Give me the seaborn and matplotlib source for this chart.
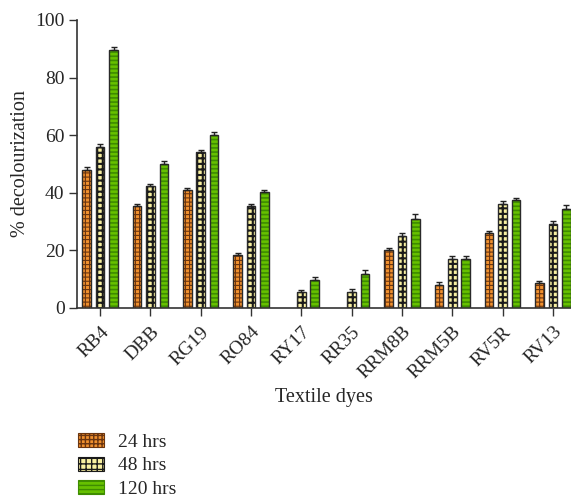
import numpy as np
import pandas as pd
import matplotlib
matplotlib.use("Agg")
import matplotlib.pyplot as plt
from matplotlib.patches import Patch, Rectangle
import seaborn as sns

dyes = ["RB4", "DBB", "RG19", "RO84", "RY17", "RR35", "RRM8B", "RRM5B", "RV5R", "RV13"]
series = ["24 hrs", "48 hrs", "120 hrs"]
vals_24 = [48.0, 35.5, 40.8, 18.3, 0.0, 0.0, 20.0, 8.0, 26.0, 8.7]
vals_48 = [56.0, 42.4, 54.0, 35.3, 5.5, 5.6, 24.9, 17.0, 36.1, 29.0]
vals_120 = [89.6, 50.1, 60.2, 40.2, 9.8, 11.9, 30.8, 17.0, 37.4, 34.4]
err_24 = [1.0, 0.7, 1.0, 0.8, 0.0, 0.0, 0.9, 0.9, 0.8, 0.8]
err_48 = [1.0, 0.8, 1.0, 0.7, 0.9, 0.9, 1.0, 0.9, 0.9, 1.1]
err_120 = [1.1, 0.8, 0.9, 0.9, 0.9, 1.2, 1.7, 1.1, 0.9, 1.3]
yticks = [0, 20, 40, 60, 80, 100]

face = {"24 hrs": "#F0902E", "48 hrs": "#F8F0A2", "120 hrs": "#66C000"}
hatchc = {"24 hrs": "#6a3510", "48 hrs": "#1a1a1a", "120 hrs": "#3E8C00"}
hatches = {"24 hrs": "++++", "48 hrs": "+++", "120 hrs": "----"}
hlw = {"24 hrs": 0.8, "48 hrs": 1.5, "120 hrs": 1.2}

df = pd.DataFrame({
    "dye": dyes * 3,
    "series": [s for s in series for _ in dyes],
    "value": vals_24 + vals_48 + vals_120,
})
errs = err_24 + err_48 + err_120

sns.set_style("white")
plt.rcParams["font.family"] = ["Liberation Serif", "DejaVu Serif"]
plt.rcParams["hatch.linewidth"] = 1.0

fig = plt.figure(figsize=(5.71, 5.0), dpi=100)
ax = fig.add_axes([77 / 571, 192 / 500, 494 / 571, 288 / 500])

sns.barplot(data=df, x="dye", y="value", hue="series", hue_order=series,
            palette=face, width=0.8, gap=0.36, legend=False, ax=ax,
            errorbar=None, saturation=1)

bars = list(ax.patches)
for i, p in enumerate(bars):
    s = series[i // len(dyes)]
    p.set_hatch(hatches[s])
    p.set_edgecolor(hatchc[s])
    p.set_linewidth(0)
    if hasattr(p, "set_hatch_linewidth"):
        p.set_hatch_linewidth(hlw[s])
    if p.get_height() > 0:
        ax.add_patch(Rectangle((p.get_x(), p.get_y()), p.get_width(), p.get_height(),
                               fill=False, edgecolor="#2a2a2a", linewidth=1.0, zorder=p.get_zorder() + 0.1))

xs = [p.get_x() + p.get_width() / 2 for p in bars]
hs = [p.get_height() for p in bars]
mask = [h > 0 for h in hs]
ax.errorbar([x for x, m in zip(xs, mask) if m], [h for h, m in zip(hs, mask) if m],
            yerr=[[0] * sum(mask), [e for e, m in zip(errs, mask) if m]],
            fmt="none", ecolor="#222222", elinewidth=1.0, capsize=2.5, capthick=1.0, zorder=5)

ax.set_ylim(0, 100)
ax.set_xlim(-0.46, 9.36)
ax.set_yticks(yticks)
ax.set_yticklabels([str(t) for t in yticks], fontsize=14)
ax.set_xticks(range(len(dyes)))
ax.set_xticklabels(dyes, fontsize=14, rotation=45, ha="right", rotation_mode="anchor")
ax.tick_params(axis="both", direction="out", length=6, width=1.0, color="#333333",
               bottom=True, left=True, pad=3)
ax.tick_params(axis="x", pad=5)
for sp in ["top", "right"]:
    ax.spines[sp].set_visible(False)
for sp in ["left", "bottom"]:
    ax.spines[sp].set_color("#333333")
    ax.spines[sp].set_linewidth(1.2)
ax.set_xlabel("Textile dyes", fontsize=14.5, labelpad=4)
ax.set_ylabel("% decolourization", fontsize=14.5, labelpad=4)

handles = [Patch(facecolor=face[s], edgecolor=hatchc[s], hatch=hatches[s], linewidth=0.8, label=s)
           for s in series]
fig.legend(handles=handles, loc="upper left", bbox_to_anchor=(70 / 571, 1 - 425 / 500),
           frameon=False, fontsize=14, handlelength=1.35, handleheight=0.75,
           labelspacing=0.3, handletextpad=0.7, borderaxespad=0)

fig.savefig("out.png", dpi=100)
